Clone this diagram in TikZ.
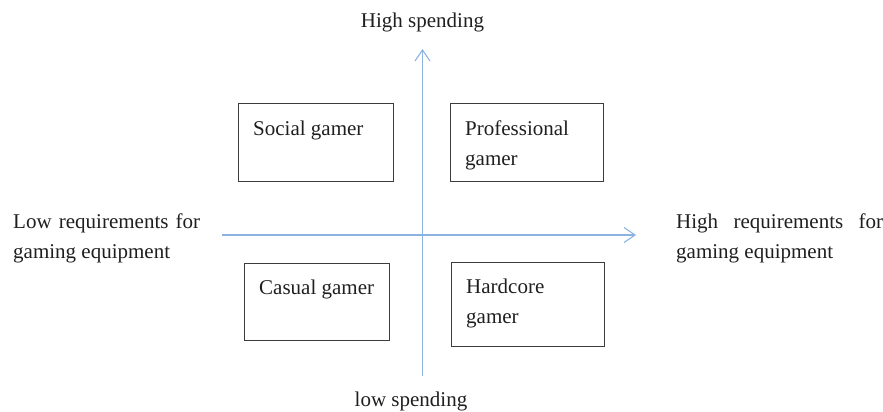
\documentclass[tikz,border=0pt]{standalone}
\usepackage{fontspec}
\setmainfont{Liberation Serif}
\usetikzlibrary{arrows.meta}
\definecolor{axisblue}{RGB}{140,178,226}
\definecolor{boxline}{RGB}{60,60,60}
\tikzset{
  txt/.style={font=\fontsize{21}{30}\selectfont, inner sep=0pt, text=black!88},
  quad/.style={draw=boxline, line width=1.1pt, rectangle, inner sep=0pt},
  axis/.style={draw=axisblue, line width=1.7pt, -{Straight Barb[length=11pt,width=15pt,line width=1.1pt]}},
}
\begin{document}
\begin{tikzpicture}[x=1pt,y=-1pt]
\useasboundingbox (0,0) rectangle (883,412);

% axes
\coordinate (vbot) at (422.5,376);
\coordinate (vtop) at (422.5,49);
\coordinate (hleft) at (222,235);
\coordinate (hright) at (636,235);
\draw[axis] (vbot) -- (vtop);
\draw[axis] (hleft) -- (hright);

% axis labels
\node[txt, anchor=base] (hs) at (422.5,28) {High spending};
\node[txt, anchor=base] (ls) at (411,406) {low spending};
\node[txt, anchor=base west] (lo) at (13,228)
  {\vtop{\hbox{\makebox[187pt][s]{Low requirements for}}\hbox{gaming equipment}}};
\node[txt, anchor=base west] (hi) at (676,228)
  {\vtop{\hbox{\makebox[207pt][s]{High requirements for}}\hbox{gaming equipment}}};

% quadrant boxes
\node[quad, anchor=north west, minimum width=155pt, minimum height=78pt] (social) at (238,103) {};
\node[quad, anchor=north west, minimum width=153pt, minimum height=78pt] (pro) at (450,103) {};
\node[quad, anchor=north west, minimum width=145pt, minimum height=77pt] (casual) at (244,263) {};
\node[quad, anchor=north west, minimum width=153pt, minimum height=84pt] (hard) at (451,262) {};

% quadrant texts
\node[txt, anchor=base west] (socialt) at ([shift={(15,32)}]social.north west) {Social gamer};
\node[txt, anchor=base west] (prot) at ([shift={(15,32)}]pro.north west)
  {\vtop{\hbox{Professional}\hbox{gamer}}};
\node[txt, anchor=base west] (casualt) at ([shift={(15,31)}]casual.north west) {Casual gamer};
\node[txt, anchor=base west] (hardt) at ([shift={(15,31)}]hard.north west)
  {\vtop{\hbox{Hardcore}\hbox{gamer}}};
\end{tikzpicture}
\end{document}
